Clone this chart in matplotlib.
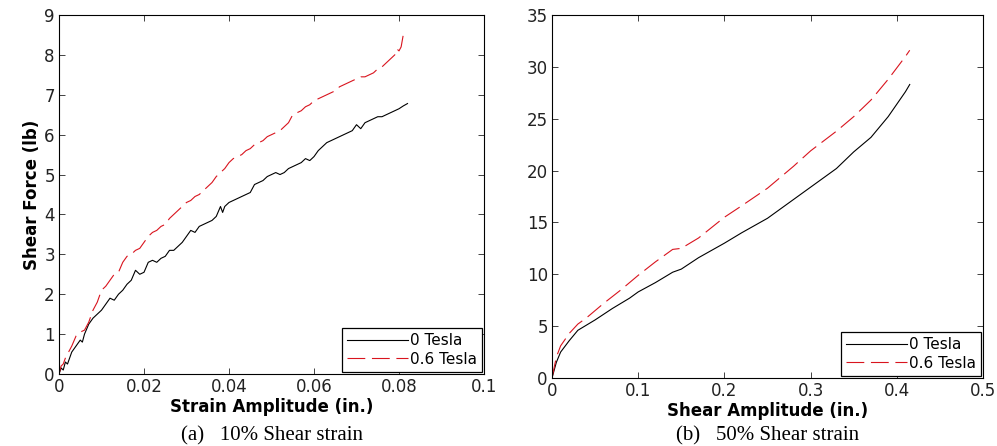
import matplotlib.pyplot as plt

# (a) 10% shear strain
strain_x = [0, 0.0005, 0.001, 0.0015, 0.002, 0.003, 0.004, 0.005, 0.0055, 0.006, 0.007, 0.008, 0.009, 0.010,
            0.011, 0.012, 0.013, 0.014, 0.015, 0.016, 0.017, 0.018, 0.019, 0.020, 0.021, 0.022, 0.023, 0.024,
            0.025, 0.026, 0.027, 0.028, 0.029, 0.030, 0.031, 0.032, 0.033, 0.034, 0.035, 0.036, 0.037, 0.038,
            0.0385, 0.039, 0.040, 0.041, 0.042, 0.043, 0.044, 0.045, 0.046, 0.047, 0.048, 0.049, 0.050, 0.051,
            0.052, 0.053, 0.054, 0.055, 0.056, 0.057, 0.058, 0.059, 0.060, 0.061, 0.062, 0.063, 0.064, 0.065,
            0.066, 0.067, 0.068, 0.069, 0.070, 0.071, 0.072, 0.073, 0.074, 0.075, 0.076, 0.077, 0.078, 0.079,
            0.080, 0.081, 0.082]
force_0T_a = [0, 0.15, 0.1, 0.3, 0.25, 0.55, 0.7, 0.85, 0.8, 1.0, 1.25, 1.4, 1.5, 1.6,
              1.75, 1.9, 1.85, 2.0, 2.1, 2.25, 2.35, 2.6, 2.5, 2.55, 2.8, 2.85, 2.8, 2.9,
              2.95, 3.1, 3.1, 3.2, 3.3, 3.45, 3.6, 3.55, 3.7, 3.75, 3.8, 3.85, 3.95, 4.2,
              4.05, 4.2, 4.3, 4.35, 4.4, 4.45, 4.5, 4.55, 4.75, 4.8, 4.85, 4.95, 5.0, 5.05,
              5.0, 5.05, 5.15, 5.2, 5.25, 5.3, 5.4, 5.35, 5.45, 5.6, 5.7, 5.8, 5.85, 5.9,
              5.95, 6.0, 6.05, 6.1, 6.25, 6.15, 6.3, 6.35, 6.4, 6.45, 6.45, 6.5, 6.55, 6.6,
              6.65, 6.72, 6.78]

strain_x_06 = [0, 0.0005, 0.001, 0.0015, 0.002, 0.003, 0.004, 0.005, 0.006, 0.007, 0.008, 0.009, 0.010,
               0.011, 0.012, 0.013, 0.014, 0.015, 0.016, 0.017, 0.018, 0.019, 0.020, 0.021, 0.022, 0.023,
               0.024, 0.025, 0.026, 0.027, 0.028, 0.029, 0.030, 0.031, 0.032, 0.033, 0.034, 0.035, 0.036,
               0.037, 0.038, 0.039, 0.040, 0.041, 0.042, 0.043, 0.044, 0.045, 0.046, 0.047, 0.048, 0.049,
               0.050, 0.051, 0.052, 0.053, 0.054, 0.055, 0.056, 0.057, 0.058, 0.059, 0.060, 0.061, 0.062,
               0.063, 0.064, 0.065, 0.066, 0.067, 0.068, 0.069, 0.070, 0.071, 0.072, 0.073, 0.074, 0.075,
               0.076, 0.077, 0.078, 0.079, 0.0795, 0.080, 0.0805, 0.081]
force_06T_a = [0, 0.2, 0.25, 0.4, 0.5, 0.7, 0.95, 1.05, 1.1, 1.3, 1.6, 1.8, 2.1,
               2.2, 2.35, 2.5, 2.55, 2.8, 2.95, 3.0, 3.1, 3.15, 3.3, 3.45, 3.55, 3.6,
               3.7, 3.75, 3.9, 4.0, 4.1, 4.2, 4.3, 4.35, 4.45, 4.5, 4.6, 4.7, 4.8,
               4.95, 5.05, 5.15, 5.3, 5.4, 5.45, 5.5, 5.6, 5.65, 5.75, 5.8, 5.85, 5.95,
               6.0, 6.05, 6.1, 6.2, 6.3, 6.5, 6.55, 6.6, 6.7, 6.75, 6.85, 6.9, 6.95,
               7.0, 7.05, 7.1, 7.2, 7.25, 7.3, 7.35, 7.4, 7.45, 7.45, 7.5, 7.55, 7.65,
               7.7, 7.8, 7.9, 8.0, 8.15, 8.1, 8.2, 8.5]

# (b) 50% shear strain
shear_x_0T = [0, 0.005, 0.01, 0.02, 0.03, 0.04, 0.05, 0.07, 0.09, 0.1, 0.12, 0.14, 0.15, 0.17, 0.2,
              0.22, 0.25, 0.28, 0.3, 0.33, 0.35, 0.37, 0.38, 0.39, 0.4, 0.41, 0.415]
force_0T_b = [0, 1.5, 2.5, 3.6, 4.6, 5.1, 5.6, 6.7, 7.7, 8.3, 9.2, 10.2, 10.5, 11.6, 13.0,
              14.0, 15.4, 17.2, 18.4, 20.2, 21.8, 23.2, 24.2, 25.2, 26.4, 27.6, 28.3]
shear_x_06T = [0, 0.005, 0.01, 0.02, 0.03, 0.04, 0.06, 0.08, 0.1, 0.12, 0.13, 0.14, 0.15, 0.17, 0.2,
               0.22, 0.25, 0.28, 0.3, 0.33, 0.35, 0.37, 0.39, 0.41, 0.415]
force_06T_b = [0, 2.0, 3.1, 4.3, 5.2, 5.8, 7.2, 8.5, 9.9, 11.2, 11.8, 12.4, 12.5, 13.5, 15.5,
               16.6, 18.3, 20.4, 21.9, 23.8, 25.2, 26.8, 28.8, 31.0, 31.6]

red = '#d9141e'
dash = (16, 6)

fig = plt.figure(figsize=(9.97, 4.46), dpi=100)
ax1 = fig.add_axes([59 / 997, 72 / 446, 425 / 997, 359 / 446])
ax2 = fig.add_axes([552 / 997, 68 / 446, 431 / 997, 363 / 446])

ax1.plot(strain_x, force_0T_a, color='black', lw=0.8, label='0 Tesla')
ax1.plot(strain_x_06, force_06T_a, color=red, lw=0.8, dashes=dash, label='0.6 Tesla')
ax1.set_xlim(0, 0.1)
ax1.set_ylim(0, 9)
ax1.set_xticks([0, 0.02, 0.04, 0.06, 0.08, 0.1])
ax1.set_xticklabels(['0', '0.02', '0.04', '0.06', '0.08', '0.1'])
ax1.set_yticks(range(10))
ax1.set_xlabel('Strain Amplitude (in.)', fontsize=12, fontweight='bold', labelpad=1)
ax1.set_ylabel('Shear Force (lb)', fontsize=12, fontweight='bold', labelpad=2)

ax2.plot(shear_x_0T, force_0T_b, color='black', lw=0.8, label='0 Tesla')
ax2.plot(shear_x_06T, force_06T_b, color=red, lw=0.8, dashes=dash, label='0.6 Tesla')
ax2.set_xlim(0, 0.5)
ax2.set_ylim(0, 35)
ax2.set_xticks([0, 0.1, 0.2, 0.3, 0.4, 0.5])
ax2.set_xticklabels(['0', '0.1', '0.2', '0.3', '0.4', '0.5'])
ax2.set_yticks(range(0, 36, 5))
ax2.set_xlabel('Shear Amplitude (in.)', fontsize=12, fontweight='bold', labelpad=1)

for ax in (ax1, ax2):
    ax.tick_params(direction='in', top=True, right=True, length=4, width=0.6,
                   labelsize=12, colors='#222222', pad=3)
    for s in ax.spines.values():
        s.set_linewidth(0.8)
    leg = ax.legend(loc='lower right', fontsize=11, handlelength=4.0, fancybox=False,
                    edgecolor='black', framealpha=1, borderaxespad=0.12, borderpad=0.35,
                    labelspacing=0.25, handletextpad=0.1)
    leg.get_frame().set_linewidth(0.9)

fig.text((59 + 484) / 2 / 997, 10 / 446, '(a)   10% Shear strain', ha='center', va='center',
         fontsize=15, family='Liberation Serif')
fig.text((552 + 983) / 2 / 997, 10 / 446, '(b)   50% Shear strain', ha='center', va='center',
         fontsize=15, family='Liberation Serif')

fig.savefig('out.png', dpi=100)
